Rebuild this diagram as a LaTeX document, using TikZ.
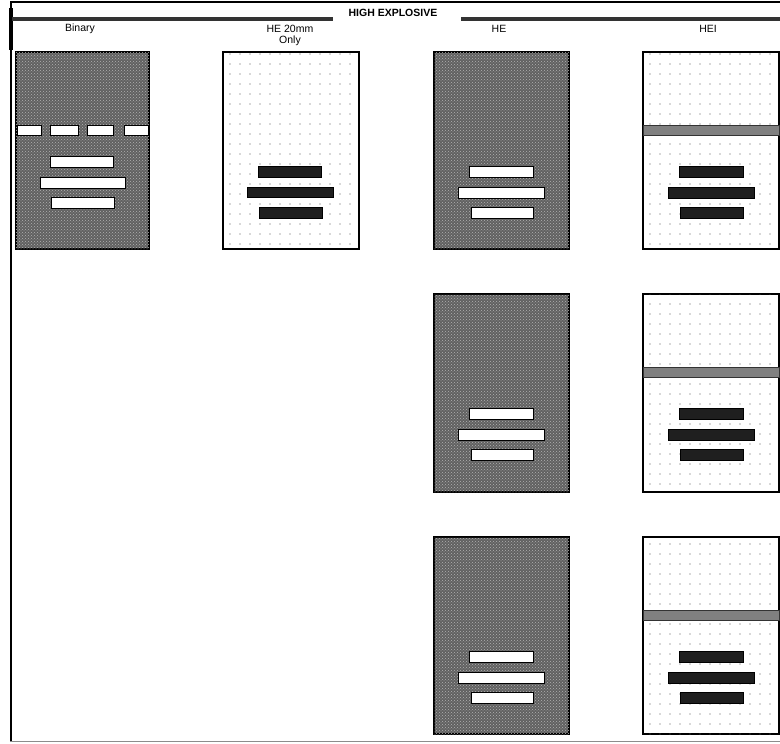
\documentclass[tikz,border=0pt]{standalone}
\usepackage{fontspec}
\setmainfont{Liberation Sans}
\usepackage{tikz}
\usetikzlibrary{patterns}
\usetikzlibrary{positioning}

\pgfdeclarepatternformonly{sparsedots}{\pgfqpoint{-1pt}{-1pt}}{\pgfqpoint{1pt}{1pt}}{\pgfqpoint{10pt}{10pt}}{%
\pgfpathcircle{\pgfqpoint{0pt}{0pt}}{0.6pt}\pgfusepath{fill}}

\tikzset{
darkbox/.style={fill=black!62,draw=black,line width=1.2pt,postaction={pattern=crosshatch dots,pattern color=black!30}},
lightbox/.style={fill=white,draw=black,line width=1.2pt,postaction={pattern=sparsedots,pattern color=black!65}},
whitebar/.style={fill=white,draw=black,line width=0.6pt},
blackbar/.style={fill=black!88,draw=black,line width=0.6pt},
fuseband/.style={fill=black!50,draw=black!80,line width=0.6pt},
collabel/.style={font=\fontsize{10.5}{12}\selectfont,inner sep=0pt}
}

\begin{document}
\begin{tikzpicture}[x=1pt,y=-1pt]
\useasboundingbox (0,0) rectangle (780,744);
% frame
\draw[line width=1.5pt] (10,2) -- (780,2);
\draw[line width=2.5pt] (11,2) -- (11,741);
\draw[line width=4pt] (11,8) -- (11,50);
\draw[black!45,line width=1pt] (10,741) -- (780,741);

% header
\node[font=\fontsize{10.5}{12}\selectfont\bfseries,inner sep=0pt] (title) at (393,13) {HIGH EXPLOSIVE};
\draw[fill=black!80,draw=none] (12,17) rectangle (333,21);
\draw[fill=black!80,draw=none] (461,17) rectangle (780,21);
\node[collabel] (binary) at (80,29) {Binary};
\node[collabel] (hetwenty) at (290,29) {HE 20mm};
\node[collabel] (only) at (290,41) {Only};
\node[collabel] (he) at (499,29) {HE};
\node[collabel] (hei) at (708,29) {HEI};

% Binary
\draw[darkbox] (16,52) rectangle (149,249);
\draw[whitebar] (17,125) rectangle (41,135);
\draw[whitebar] (50,125) rectangle (78,135);
\draw[whitebar] (87,125) rectangle (113,135);
\draw[whitebar] (124,125) rectangle (148,135);
\draw[whitebar] (50,156) rectangle (113,167);
\draw[whitebar] (40,177) rectangle (125,188);
\draw[whitebar] (51,197) rectangle (114,208);

% HE 20mm only
\draw[lightbox] (223,52) rectangle (359,249);
\draw[blackbar] (258,166) rectangle (321,177);
\draw[blackbar] (247,187) rectangle (333,197);
\draw[blackbar] (259,207) rectangle (322,218);

% HE
\draw[darkbox] (434,52) rectangle (569,249);
\draw[whitebar] (469,166) rectangle (533,177);
\draw[whitebar] (458,187) rectangle (544,198);
\draw[whitebar] (471,207) rectangle (533,218);

\draw[darkbox] (434,294) rectangle (569,492);
\draw[whitebar] (469,408) rectangle (533,419);
\draw[whitebar] (458,429) rectangle (544,440);
\draw[whitebar] (471,449) rectangle (533,460);

\draw[darkbox] (434,537) rectangle (569,734);
\draw[whitebar] (469,651) rectangle (533,662);
\draw[whitebar] (458,672) rectangle (544,683);
\draw[whitebar] (471,692) rectangle (533,703);

% HEI
\draw[lightbox] (643,52) rectangle (779,249);
\draw[fuseband] (643,125) rectangle (779,135);
\draw[blackbar] (679,166) rectangle (743,177);
\draw[blackbar] (668,187) rectangle (754,198);
\draw[blackbar] (680,207) rectangle (743,218);

\draw[lightbox] (643,294) rectangle (779,492);
\draw[fuseband] (643,367) rectangle (779,377);
\draw[blackbar] (679,408) rectangle (743,419);
\draw[blackbar] (668,429) rectangle (754,440);
\draw[blackbar] (680,449) rectangle (743,460);

\draw[lightbox] (643,537) rectangle (779,734);
\draw[fuseband] (643,610) rectangle (779,620);
\draw[blackbar] (679,651) rectangle (743,662);
\draw[blackbar] (668,672) rectangle (754,683);
\draw[blackbar] (680,692) rectangle (743,703);

\end{tikzpicture}
\end{document}
